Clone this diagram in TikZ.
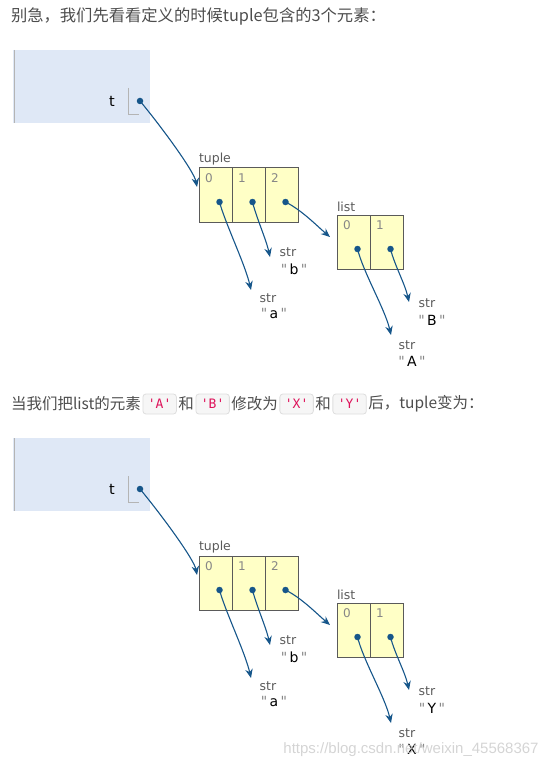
\documentclass[tikz,border=0pt]{standalone}
\usepackage{fontspec}
\usepackage{xcolor}
\usepackage{tikz}
\setmainfont{DejaVu Sans}
\newfontfamily\cjkfont{Noto Sans CJK SC}
\newfontfamily\codefont{DejaVu Sans Mono}
\newfontfamily\wmfont{Liberation Sans}
\usetikzlibrary{positioning,calc,arrows.meta}
\definecolor{frameblue}{RGB}{223,232,246}
\definecolor{framegray}{RGB}{180,180,180}
\definecolor{cellyellow}{RGB}{255,255,198}
\definecolor{cellborder}{RGB}{90,90,90}
\definecolor{ptrblue}{RGB}{22,86,138}
\definecolor{labgray}{RGB}{90,90,90}
\definecolor{idxgray}{RGB}{135,135,135}
\definecolor{textgray}{RGB}{77,77,77}
\definecolor{codepink}{RGB}{222,18,90}
\definecolor{codebg}{RGB}{246,246,246}
\definecolor{codeline}{RGB}{222,222,222}
\definecolor{wmgray}{RGB}{205,205,205}
\newcommand{\qval}[1]{\textcolor{idxgray}{\textquotedbl}\,#1\,\textcolor{idxgray}{\textquotedbl}}
\newcommand{\qchr}[1]{\textquotesingle#1\textquotesingle}

\begin{document}
\begin{tikzpicture}[x=1pt, y=-1pt,
    every node/.style={inner sep=0pt, outer sep=0pt},
    headtext/.style={font=\cjkfont\fontsize{15.5}{18}\selectfont, text=textgray},
    code/.style={font=\codefont\fontsize{13}{15}\selectfont, text=codepink, fill=codebg, draw=codeline,
        line width=0.8pt, rounded corners=3pt, minimum height=20pt, inner xsep=5pt},
    cell/.style={draw=cellborder, line width=1pt, fill=cellyellow, minimum width=33pt, minimum height=54pt},
    idx/.style={font=\fontsize{12}{14}\selectfont, text=idxgray, anchor=north west},
    typelab/.style={font=\fontsize{12.5}{14}\selectfont, text=labgray},
    strval/.style={font=\fontsize{14}{16}\selectfont},
    dot/.style={circle, fill=ptrblue, minimum size=6.5pt},
    ptr/.style={ptrblue, line width=1.1pt, -{Stealth[length=9pt, width=7.5pt, inset=3pt]}}]
    \useasboundingbox (0,0) rectangle (557,770);

    % Text lines
    \node[headtext, font=\cjkfont\fontsize{16.3}{18}\selectfont, anchor=west] (head1) at (11,16) {别急，我们先看看定义的时候tuple包含的3个元素：};
    \node[headtext, anchor=west] (h2a) at (11,404) {当我们把list的元素};
    \node[code, right=2pt of h2a] (c1) {\qchr{A}};
    \node[headtext, right=2pt of c1] (h2b) {和};
    \node[code, right=2pt of h2b] (c2) {\qchr{B}};
    \node[headtext, right=2pt of c2] (h2c) {修改为};
    \node[code, right=2pt of h2c] (c3) {\qchr{X}};
    \node[headtext, right=2pt of c3] (h2d) {和};
    \node[code, right=2pt of h2d] (c4) {\qchr{Y}};
    \node[headtext, right=2pt of c4] (h2e) {后，tuple变为：};

    % Frames, tuple and list
    \foreach \p/\dy/\va/\vb in {u/0/A/B, v/388/X/Y}{
    \begin{scope}[yshift=-\dy pt]
        % Global frame
        \fill[frameblue] (13,50) rectangle (150,123);
        \draw[framegray, line width=1pt] (14,50) -- (14,123);
        \draw[framegray, line width=0.8pt] (128,88) -- (128,114) -- (139,114);
        \node[font=\fontsize{14.5}{16}\selectfont] (\p var) at (112,101) {t};
        \node[dot] (\p pt) at (140,101) {};

        % Tuple
        \node[cell, anchor=north west] (\p t0) at (199,168) {};
        \node[cell, right=0pt of \p t0] (\p t1) {};
        \node[cell, right=0pt of \p t1] (\p t2) {};
        \node[typelab, anchor=south west] (\p tlab) at ($(\p t0.north west)+(0,-3)$) {tuple};
        \foreach \i in {0,1,2}{
            \node[idx] at ($(\p t\i.north west)+(6,6)$) {\i};
            \node[dot] (\p td\i) at ($(\p t\i.center)+(4,7)$) {};
        }

        % List
        \node[cell, anchor=north west] (\p l0) at (337,215) {};
        \node[cell, right=0pt of \p l0] (\p l1) {};
        \node[typelab, anchor=south west] (\p llab) at ($(\p l0.north west)+(0,-3)$) {list};
        \foreach \i in {0,1}{
            \node[idx] at ($(\p l\i.north west)+(6,6)$) {\i};
            \node[dot] (\p ld\i) at ($(\p l\i.center)+(4,7)$) {};
        }

        % Strings
        \node[typelab] (\p sa) at (268,298) {str};
        \node[strval] (\p va) at (274,313) {\qval{a}};
        \node[typelab] (\p sb) at (288,252) {str};
        \node[strval] (\p vb) at (294,269) {\qval{b}};
        \node[typelab] (\p sA) at (407,345) {str};
        \node[strval] (\p vA) at (412,361) {\qval{\va}};
        \node[typelab] (\p sB) at (427,303) {str};
        \node[strval] (\p vB) at (432,320) {\qval{\vb}};

        % Arrow ends
        \coordinate (\p et) at (197,187);
        \coordinate (\p el) at (330,237);
        \coordinate (\p ea) at (251,290);
        \coordinate (\p eb) at (270,257);
        \coordinate (\p eA) at (391,335);
        \coordinate (\p eB) at (409,302);

        % Pointers
        \draw[ptr] (\p pt.center) .. controls +(20,24) and +(-3,-16) .. (\p et);
        \draw[ptr] (\p td0.center) .. controls +(6,22) and +(-6,-26) .. (\p ea);
        \draw[ptr] (\p td1.center) .. controls +(4,16) and +(-4,-18) .. (\p eb);
        \draw[ptr] (\p td2.center) .. controls +(16,8) and +(-14,-12) .. (\p el);
        \draw[ptr] (\p ld0.center) .. controls +(6,24) and +(-6,-26) .. (\p eA);
        \draw[ptr] (\p ld1.center) .. controls +(4,16) and +(-4,-18) .. (\p eB);
    \end{scope}
    }

    % Watermark
    \node[font=\wmfont\fontsize{15}{17}\selectfont, text=wmgray, opacity=0.85] (wm) at (411,750) {https://blog.csdn.net/weixin\_45568367};
\end{tikzpicture}
\end{document}
